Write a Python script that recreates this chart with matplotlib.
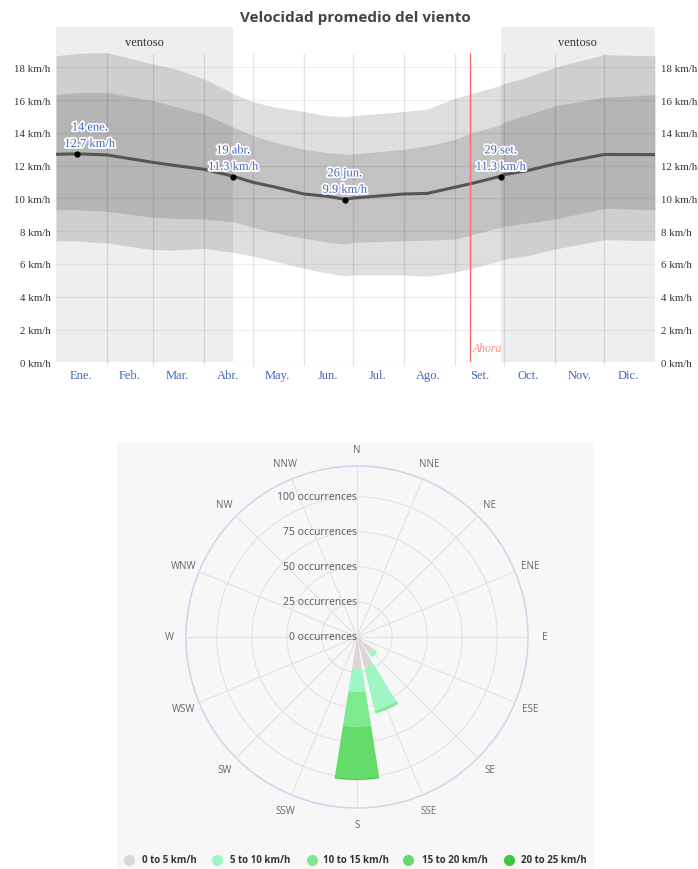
import numpy as np
import matplotlib
matplotlib.use("Agg")
import matplotlib.pyplot as plt
import matplotlib.patheffects as pe
from matplotlib.lines import Line2D
from matplotlib.patches import Rectangle

# ---- average wind speed data (km/h) ----
days = [0, 13, 31, 59, 73, 90, 108, 120, 134, 151, 165, 176, 181,
        212, 226, 243, 252, 271, 273, 287, 304, 334, 365]
mean_speed = [12.69, 12.72, 12.65, 12.2, 12.0, 11.78, 11.35, 10.98, 10.68, 10.27, 10.13, 9.95, 10.02,
              10.27, 10.3, 10.68, 10.88, 11.35, 11.45, 11.69, 12.1, 12.68, 12.67]
p90 = [18.7, 18.85, 18.9, 18.2, 17.9, 17.3, 16.4, 15.9, 15.56, 15.3, 15.05, 15.0, 15.05,
       15.3, 15.45, 16.1, 16.37, 16.9, 17.0, 17.4, 18.0, 18.77, 18.7]
p75 = [16.33, 16.45, 16.47, 15.96, 15.6, 15.15, 14.35, 13.83, 13.4, 13.0, 12.8, 12.7, 12.7,
       13.0, 13.2, 13.6, 13.95, 14.5, 14.65, 15.1, 15.65, 16.17, 16.33]
p25 = [9.31, 9.3, 9.21, 8.85, 8.78, 8.74, 8.58, 8.24, 7.9, 7.57, 7.35, 7.22, 7.32,
       7.42, 7.45, 7.52, 7.75, 8.24, 8.3, 8.5, 8.74, 9.4, 9.31]
p10 = [7.42, 7.4, 7.28, 6.87, 6.85, 6.96, 6.71, 6.47, 6.15, 5.74, 5.45, 5.28, 5.33,
       5.33, 5.25, 5.49, 5.7, 6.2, 6.3, 6.5, 6.91, 7.48, 7.42]

months = ["Ene.", "Feb.", "Mar.", "Abr.", "May.", "Jun.", "Jul.", "Ago.", "Set.", "Oct.", "Nov.", "Dic."]
month_mid = [15, 45, 74, 105, 135, 166, 196, 227, 258, 288, 319, 349]
month_start = [31, 59, 90, 120, 151, 181, 212, 243, 273, 304, 334]
windy_spans = [(0, 108), (271, 365)]
now_day = 252

marked_days = [13, 108, 176, 271]
marked_vals = [12.7, 11.3, 9.9, 11.3]
marked_text = ["14 ene.\n12.7 km/h", "19 abr.\n11.3 km/h", "26 jun.\n9.9 km/h", "29 set.\n11.3 km/h"]

# ---- wind rose data (occurrences) ----
directions = ["N", "NNE", "NE", "ENE", "E", "ESE", "SE", "SSE",
              "S", "SSW", "SW", "WSW", "W", "WNW", "NW", "NNW"]
speed_bins = ["0 to 5 km/h", "5 to 10 km/h", "10 to 15 km/h", "15 to 20 km/h", "20 to 25 km/h"]
occ_0_5 = [0, 0, 0, 0, 0, 0, 15, 22, 23, 0, 0, 0, 0, 0, 0, 0]
occ_5_10 = [0, 0, 0, 0, 0, 0, 3, 32, 16, 0, 0, 0, 0, 0, 0, 0]
occ_10_15 = [0, 0, 0, 0, 0, 0, 0, 2, 25, 0, 0, 0, 0, 0, 0, 0]
occ_15_20 = [0, 0, 0, 0, 0, 0, 0, 0, 37, 0, 0, 0, 0, 0, 0, 0]
occ_20_25 = [0, 0, 0, 0, 0, 0, 0, 0, 1, 0, 0, 0, 0, 0, 0, 0]
bin_colors = ["#ddd6d6", "#9ff5c3", "#7eea8f", "#64dc6c", "#3cc83c"]

serif = "Liberation Serif"
blue = "#4465c0"

fig = plt.figure(figsize=(6.98, 8.7), dpi=100)

# ================= top chart =================
ax = fig.add_axes([56 / 698, 1 - 363.3 / 870, 599 / 698, 335.3 / 870])
ax.set_xlim(0, 365)
ax.set_ylim(0, 335.3 / 16.39)

for a, b in windy_spans:
    ax.axvspan(a, b, color="#eeeeee", lw=0, zorder=0)

for v in range(0, 19, 2):
    ax.axhline(v, color="black", alpha=0.06, lw=1, zorder=1)

ax.fill_between(days, p10, p90, color="black", alpha=0.13, lw=0, zorder=2)
ax.fill_between(days, p25, p75, color="black", alpha=0.125, lw=0, zorder=3)

ax.vlines(month_start, -0.25, 18.9, color="black", alpha=0.1, lw=1, zorder=4, clip_on=False)

ax.plot(days, mean_speed, color="#555555", lw=2.2, zorder=5)
ax.scatter(marked_days, marked_vals, s=12, color="black", zorder=6)

# first label is pushed right to stay inside the plot
label_dx = [9, 0, 0, 0]
for d, v, t, dx in zip(marked_days, marked_vals, marked_text, label_dx):
    ax.annotate(t, (d, v), xytext=(dx, 3), textcoords="offset points",
                ha="center", va="bottom", fontsize=9, family=serif, color=blue,
                linespacing=1.5, zorder=7,
                path_effects=[pe.withStroke(linewidth=2.5, foreground="white")])

ax.vlines(now_day, 0, 18.9, color="#ff6b6b", lw=1, zorder=6)
ax.text(now_day + 2, 0.5, "Ahora", family=serif, fontsize=8.5, color="#ff8a8a",
        ha="left", va="bottom", style="italic", zorder=7)

for a, b in windy_spans:
    ax.text((a + b) / 2, 19.55, "ventoso", family=serif, fontsize=9, color="#333333",
            ha="center", va="center")

for s in ax.spines.values():
    s.set_visible(False)
ax.set_yticks(range(0, 19, 2))
ax.set_yticklabels([f"{v} km/h" for v in range(0, 19, 2)])
ax.tick_params(axis="y", length=0, pad=4, labelsize=7.8, labelcolor="#333333",
               labelright=True, right=False)
for t in ax.yaxis.get_major_ticks():
    t.label1.set_family(serif)
    t.label2.set_family(serif)
ax.set_xticks(month_mid)
ax.set_xticklabels(months, family=serif, fontsize=9, color=blue)
ax.tick_params(axis="x", length=0, pad=5)

fig.text(355 / 698, 1 - 18 / 870, "Velocidad promedio del viento", ha="center", va="center",
         family="Open Sans", fontsize=11, fontweight="bold", color="#444444")

# ================= wind rose =================
fig.add_artist(Rectangle((117 / 698, 0), 476 / 698, 1 - 443 / 870,
                         transform=fig.transFigure, color="#f7f7f7", zorder=-1))

rmax = 122
cx, cy, rad = 357, 638, 171
pax = fig.add_axes([(cx - rad) / 698, 1 - (cy + rad) / 870, 2 * rad / 698, 2 * rad / 870],
                   projection="polar")
pax.set_facecolor("none")
pax.set_theta_zero_location("N")
pax.set_theta_direction(-1)
pax.set_ylim(0, rmax)
pax.grid(False)
pax.set_xticks([])
pax.set_yticks([])
pax.spines["polar"].set_visible(False)

theta = np.deg2rad(np.arange(16) * 22.5)
circle_t = np.linspace(0, 2 * np.pi, 400)
for r in [25, 50, 75, 100]:
    pax.plot(circle_t, np.full_like(circle_t, r), color="#e4e4e4", lw=0.9, zorder=1)
pax.plot(circle_t, np.full_like(circle_t, rmax), color="#ccd6eb", lw=1.1, zorder=1, clip_on=False)
for t in theta:
    pax.plot([t, t], [0, rmax], color="#e4e4e4", lw=0.9, zorder=1)

width = np.deg2rad(22.5 * 0.8)
bottom = np.zeros(16)
for series, col in zip([occ_0_5, occ_5_10, occ_10_15, occ_15_20, occ_20_25], bin_colors):
    vals = np.array(series, dtype=float)
    pax.bar(theta, vals, width=width, bottom=bottom, color=col, lw=0, zorder=3)
    bottom += vals

for t, name in zip(theta, directions):
    pax.text(t, 134, name, ha="center", va="center", fontsize=7, color="#666666",
             family="Open Sans", clip_on=False)

for r in [0, 25, 50, 75, 100]:
    pax.text(0, r, f"{r} occurrences", ha="right", va="center",
             fontsize=7.5, color="#555555", family="Open Sans", zorder=4)

# legend
leg_marker_x = [129, 217, 312, 408, 509]
leg_text_x = [142, 230, 323, 422, 521]
ly = 1 - 861 / 870
for mx, tx, col, lab in zip(leg_marker_x, leg_text_x, bin_colors, speed_bins):
    fig.add_artist(Line2D([mx / 698], [ly], marker="o", markersize=7, color=col,
                          transform=fig.transFigure, lw=0))
    fig.text(tx / 698, ly, lab, ha="left", va="center", fontsize=7, fontweight="bold",
             color="#333333", family="Open Sans")

fig.savefig("out.png", dpi=100)
